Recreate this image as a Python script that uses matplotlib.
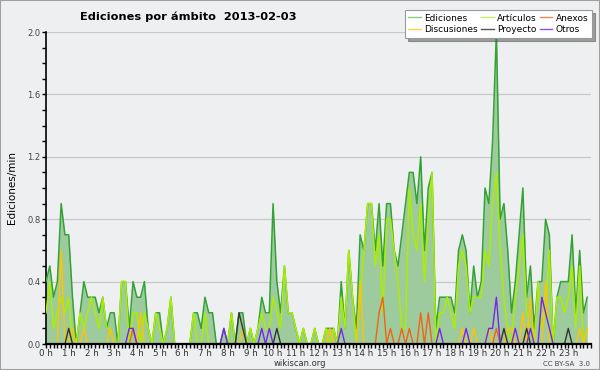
import numpy as np
import matplotlib
matplotlib.use("Agg")
import matplotlib.pyplot as plt
from matplotlib.lines import Line2D
from matplotlib.patches import Rectangle

# tramos de 10 minutos (0h00 ... 23h50)
minutos = list(range(0, 1440, 10))

ediciones = [
    0.4, 0.5, 0.3, 0.4, 0.9, 0.7, 0.7, 0.3, 0.0, 0.2, 0.4, 0.3,
    0.3, 0.3, 0.2, 0.3, 0.1, 0.2, 0.2, 0.0, 0.4, 0.4, 0.1, 0.4,
    0.3, 0.3, 0.4, 0.1, 0.0, 0.2, 0.2, 0.0, 0.1, 0.3, 0.0, 0.0,
    0.0, 0.0, 0.0, 0.2, 0.2, 0.1, 0.3, 0.2, 0.2, 0.0, 0.0, 0.1,
    0.0, 0.2, 0.0, 0.2, 0.2, 0.0, 0.1, 0.0, 0.1, 0.3, 0.2, 0.2,
    0.9, 0.4, 0.2, 0.5, 0.2, 0.2, 0.1, 0.0, 0.1, 0.0, 0.0, 0.1,
    0.0, 0.0, 0.1, 0.1, 0.1, 0.0, 0.4, 0.1, 0.6, 0.3, 0.1, 0.7,
    0.6, 0.9, 0.9, 0.6, 0.9, 0.5, 0.9, 0.9, 0.6, 0.5, 0.7, 0.9,
    1.1, 1.1, 0.9, 1.2, 0.6, 1.0, 1.1, 0.1, 0.3, 0.3, 0.3, 0.3,
    0.2, 0.6, 0.7, 0.6, 0.2, 0.5, 0.3, 0.4, 1.0, 0.9, 1.3, 2.0,
    0.8, 0.9, 0.6, 0.2, 0.4, 0.7, 1.0, 0.3, 0.5, 0.1, 0.4, 0.4,
    0.8, 0.7, 0.0, 0.3, 0.4, 0.4, 0.4, 0.7, 0.2, 0.6, 0.2, 0.3,
]

articulos = [
    0.2, 0.4, 0.1, 0.2, 0.3, 0.2, 0.3, 0.0, 0.0, 0.2, 0.1, 0.2,
    0.3, 0.2, 0.1, 0.3, 0.1, 0.1, 0.0, 0.0, 0.4, 0.4, 0.0, 0.2,
    0.2, 0.0, 0.2, 0.1, 0.0, 0.2, 0.1, 0.0, 0.1, 0.3, 0.0, 0.0,
    0.0, 0.0, 0.0, 0.2, 0.0, 0.0, 0.2, 0.0, 0.0, 0.0, 0.0, 0.0,
    0.0, 0.2, 0.0, 0.0, 0.0, 0.0, 0.1, 0.0, 0.1, 0.2, 0.1, 0.1,
    0.3, 0.2, 0.1, 0.5, 0.2, 0.2, 0.1, 0.0, 0.1, 0.0, 0.0, 0.1,
    0.0, 0.0, 0.1, 0.0, 0.1, 0.0, 0.3, 0.1, 0.6, 0.3, 0.0, 0.3,
    0.6, 0.9, 0.9, 0.5, 0.7, 0.2, 0.8, 0.8, 0.6, 0.4, 0.1, 0.1,
    1.0, 0.7, 0.6, 0.9, 0.4, 0.8, 1.1, 0.0, 0.2, 0.2, 0.3, 0.2,
    0.1, 0.5, 0.6, 0.5, 0.2, 0.3, 0.3, 0.3, 0.6, 0.5, 0.9, 1.1,
    0.6, 0.3, 0.1, 0.0, 0.3, 0.5, 0.7, 0.2, 0.1, 0.0, 0.4, 0.1,
    0.2, 0.6, 0.0, 0.3, 0.3, 0.2, 0.3, 0.5, 0.1, 0.5, 0.0, 0.1,
]

# series casi vacias: {tramo: valor}
discusiones_pts = {4: 0.6, 7: 0.1, 10: 0.1, 17: 0.1, 25: 0.2, 52: 0.1, 75: 0.1,
                   83: 0.4, 110: 0.1, 113: 0.1, 117: 0.1, 122: 0.1, 123: 0.1,
                   126: 0.2, 128: 0.3, 132: 0.4, 141: 0.1, 143: 0.1}
anexos_pts = {23: 0.1, 88: 0.2, 89: 0.3, 91: 0.1, 94: 0.1, 96: 0.1, 99: 0.2,
              101: 0.2, 119: 0.1}
proyecto_pts = {6: 0.1, 51: 0.2, 52: 0.1, 61: 0.1, 121: 0.1, 127: 0.1, 138: 0.1}
otros_pts = {22: 0.1, 23: 0.1, 47: 0.1, 57: 0.1, 59: 0.1, 78: 0.1, 104: 0.1,
             111: 0.1, 117: 0.1, 118: 0.1, 119: 0.3, 124: 0.1, 128: 0.1,
             131: 0.3, 132: 0.2, 133: 0.1}

horas_labels = ['%d h' % h for h in range(24)]


def serie(pts):
    s = np.zeros(len(minutos))
    for k, v in pts.items():
        s[k] = v
    return s


x = np.array(minutos) / 60.0
bg = '#eeeff1'

fig = plt.figure(figsize=(6, 3.7), dpi=100, facecolor=bg)
ax = fig.add_axes([46 / 600, 1 - 344 / 370, 545 / 600, 312 / 370])
ax.set_facecolor(bg)

ax.fill_between(x, ediciones, 0, color='#9ecb9e', lw=0, zorder=2)
ax.plot(x, ediciones, color='#34a234', lw=1.1, zorder=3)
ax.plot(x, articulos, color='#aaee00', lw=1.1, zorder=4)
ax.plot(x, serie(discusiones_pts), color='#ffc400', lw=1.0, zorder=5)
ax.plot(x, serie(anexos_pts), color='#f06414', lw=1.0, zorder=5)
ax.plot(x, serie(proyecto_pts), color='#333333', lw=1.0, zorder=5)
ax.plot(x, serie(otros_pts), color='#7a22ee', lw=1.0, zorder=6)

ax.set_xlim(0, 24)
ax.set_ylim(0, 2.0)
for s in ['top', 'right']:
    ax.spines[s].set_visible(False)
ax.spines['bottom'].set_linewidth(1.6)
ax.spines['left'].set_linewidth(1.2)
ax.spines['bottom'].set_zorder(7)

ax.set_yticks(np.arange(0, 2.01, 0.4))
ax.set_yticklabels(['%.1f' % v for v in np.arange(0, 2.01, 0.4)])
ax.set_yticks(np.arange(0, 2.01, 0.1), minor=True)
ax.set_xticks(range(24))
ax.set_xticklabels(horas_labels)
ax.set_xticks(np.arange(0, 24.01, 1 / 6), minor=True)
ax.tick_params(axis='y', which='both', length=3, width=1, labelsize=6,
               labelcolor='#444444', pad=1)
ax.tick_params(axis='x', which='both', length=3, width=1, labelsize=6.3,
               labelcolor='#333333', pad=0.5)
ax.grid(axis='y', color='#c8c8c8', lw=0.9, zorder=1)
ax.set_axisbelow(True)

fig.text(188 / 600, 1 - 17 / 370, 'Ediciones por ámbito  2013-02-03',
         ha='center', va='center', fontsize=8.2, fontweight='bold')
fig.text(12 / 600, 1 - 188 / 370, 'Ediciones/min', rotation=90,
         ha='center', va='center', fontsize=7.5)
fig.text(300 / 600, 1 - 363.5 / 370, 'wikiscan.org', ha='center', va='center',
         fontsize=6, color='#333333')
fig.text(590 / 600, 1 - 363.5 / 370, 'CC BY-SA  3.0', ha='right', va='center',
         fontsize=5, color='#444444')

handles = [
    Line2D([], [], color='#80d080', lw=1),
    Line2D([], [], color='#ffd040', lw=1),
    Line2D([], [], color='#c8f060', lw=1),
    Line2D([], [], color='#555555', lw=1),
    Line2D([], [], color='#f08a50', lw=1),
    Line2D([], [], color='#9050f0', lw=1),
]
names = ['Ediciones', 'Discusiones', 'Artículos', 'Proyecto', 'Anexos', 'Otros']
leg = fig.legend(handles, names, ncol=3, loc='upper right',
                 bbox_to_anchor=(592 / 600, 1 - 10 / 370), fontsize=6.5,
                 frameon=True, fancybox=False, shadow=True, handlelength=1.4,
                 handletextpad=0.4, columnspacing=0.3, labelspacing=0.3,
                 borderpad=0.4, borderaxespad=0)
leg.get_frame().set_edgecolor('#999999')
leg.get_frame().set_linewidth(0.8)

fig.patches.append(Rectangle((0, 0), 1, 1, transform=fig.transFigure,
                             fill=False, edgecolor='#a0a0a0', lw=1.5))

fig.savefig('out.png', dpi=100, facecolor=bg)
